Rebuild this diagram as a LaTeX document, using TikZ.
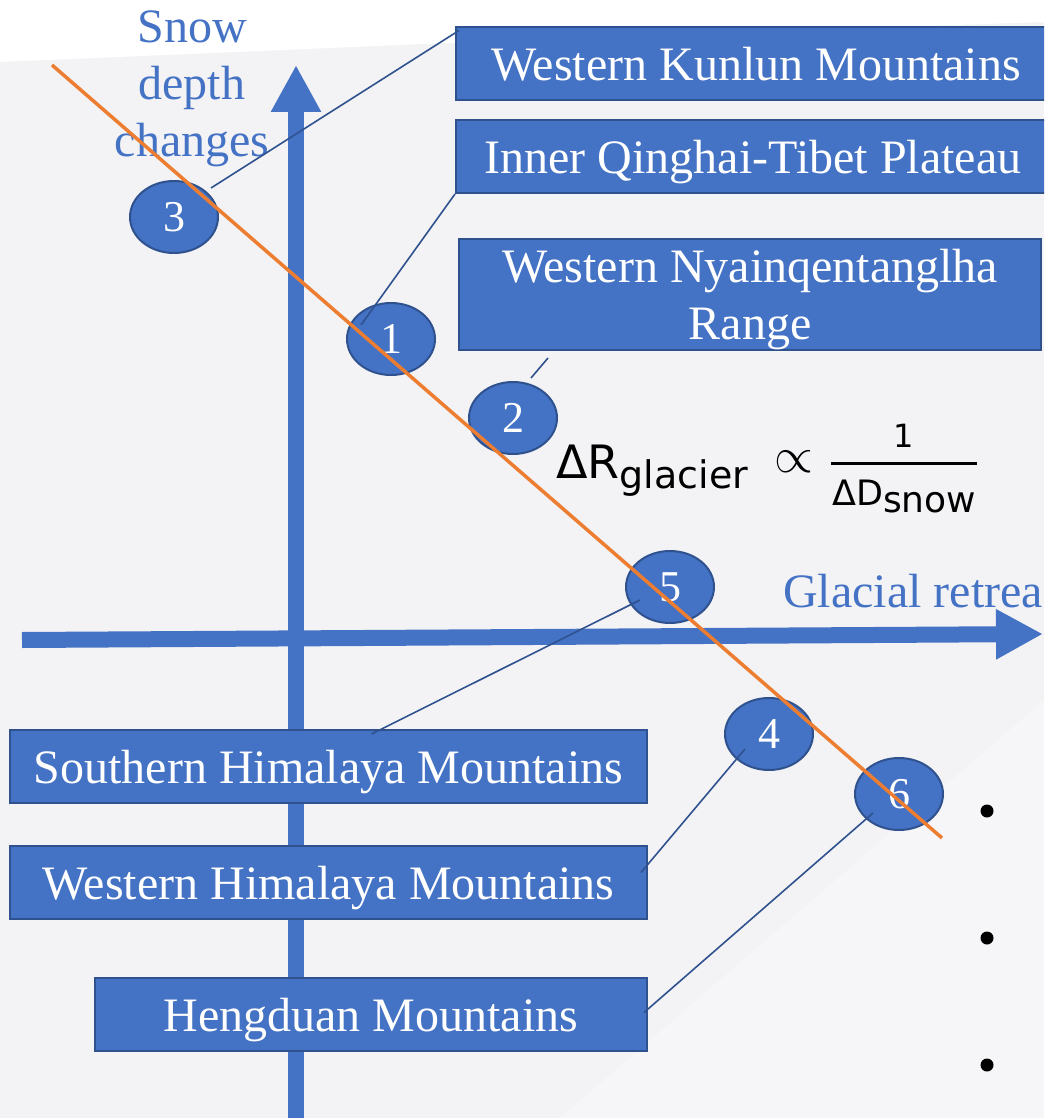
\documentclass[tikz,border=0pt]{standalone}
\usepackage{fontspec}
\usepackage{graphicx}
\setmainfont{Liberation Serif}
\newfontfamily\formfont{DejaVu Sans}
\usetikzlibrary{arrows.meta,shapes.geometric,calc}
\definecolor{boxblue}{HTML}{4472C4}
\definecolor{edgeblue}{HTML}{2F528F}
\definecolor{trendorange}{HTML}{ED7D31}
\definecolor{bggrey}{HTML}{F3F3F5}
\begin{document}
\begin{tikzpicture}[x=1pt,y=-1pt,
  region/.style={rectangle,draw=edgeblue,line width=2pt,fill=boxblue,text=white,inner sep=0pt,
    font=\fontsize{48}{57}\selectfont,minimum height=73pt},
  oneline/.style={text height=34pt,text depth=0pt},
  site/.style={ellipse,draw=edgeblue,line width=2pt,fill=boxblue,text=white,inner sep=0pt,
    minimum width=88pt,minimum height=72pt,font=\fontsize{44}{44}\selectfont},
  link/.style={draw=edgeblue,line width=1.6pt},
  axisarrow/.style={draw=boxblue,line width=16pt,-{Triangle[width=47pt,length=47pt]}},
  axislabel/.style={text=boxblue,font=\fontsize{48}{57}\selectfont,inner sep=0pt},
  trend/.style={draw=trendorange,line width=3.5pt},
  formula/.style={inner sep=0pt,text=black}
]
\useasboundingbox (0,0) rectangle (1044,1118);
\clip (0,0) rectangle (1044,1118);
% background
\fill[bggrey] (0,0) rectangle (1044,1118);
\fill[white] (0,0) -- (1044,0) -- (1044,22) -- (520,40) -- (0,62) -- cycle;
\fill[white,opacity=0.3] (560,1118) -- (1044,700) -- (1044,1118) -- cycle;

% axes
\draw[axisarrow] (296,1130) -- (296,65);
\draw[axisarrow] (22,640) -- (1043,634);

% axis labels
\node[axislabel,align=center] (ylabel) at (192,89) {Snow\\depth\\changes};
\node[axislabel,anchor=base west] (xlabel) at (783,607) {Glacial retrea};

% region boxes
\node[region,oneline,minimum width=600pt] (kunlun) at (756,64) {Western Kunlun Mountains};
\node[region,oneline,minimum width=594pt] (inner) at (753,156.5) {Inner Qinghai-Tibet Plateau};
\node[region,align=center,minimum width=582pt,minimum height=111pt] (nyain) at (750,294.5) {Western Nyainqentanglha\\\smash{Range}};
\node[region,oneline,minimum width=637pt] (southern) at (328.5,766.5) {Southern Himalaya Mountains};
\node[region,oneline,minimum width=637pt] (westhim) at (328.5,882.5) {Western Himalaya Mountains};
\node[region,oneline,minimum width=552pt] (heng) at (371,1014.5) {Hengduan Mountains};

% sites
\node[site] (s3) at (174,217) {3};
\node[site] (s1) at (391,339) {1};
\node[site] (s2) at (513,418) {2};
\node[site] (s5) at (670,587) {5};
\node[site] (s4) at (769,734) {4};
\node[site] (s6) at (899,794) {6};

% connectors
\draw[link] ($(s3)+(37,-29)$) -- ($(kunlun.north west)+(4,4)$);
\draw[link] ($(s1)+(-30,-14)$) -- (inner.south west);
\draw[link] ($(s2)+(18,-40)$) -- ($(nyain.south west)+(90,7)$);
\draw[link] ($(s5)+(-30,13)$) -- ($(southern.north)+(43,5)$);
\draw[link] ($(s4)+(-24,15)$) -- ($(westhim.east)+(-7,-10)$);
\draw[link] ($(s6)+(-26,19)$) -- ($(heng.east)+(-4,-2)$);

% trend line
\coordinate (tstart) at (52,65);
\coordinate (tend) at (942,838);
\draw[trend] (tstart) -- (tend);

% formula
\node[formula,anchor=base west,font=\formfont\fontsize{46}{46}\selectfont] (lhs) at (556,478)
  {ΔR\raisebox{-10pt}{\fontsize{38}{38}\selectfont glacier}};
\node[formula,font=\normalsize] (prop) at (794,462) {\scalebox{5}{$\propto$}};
\node[formula,font=\formfont\fontsize{32}{32}\selectfont] (num) at (904,436) {1};
\node[formula,anchor=base west,font=\formfont\fontsize{35}{35}\selectfont] (den) at (832,505)
  {ΔD\raisebox{-7pt}{\fontsize{36}{36}\selectfont snow}};
\draw[line width=3pt] (831,463) -- (977,463);

% bullets
\fill (987,811) circle (6.5pt);
\fill (987,938) circle (6.5pt);
\fill (987,1065) circle (6.5pt);
\end{tikzpicture}
\end{document}
